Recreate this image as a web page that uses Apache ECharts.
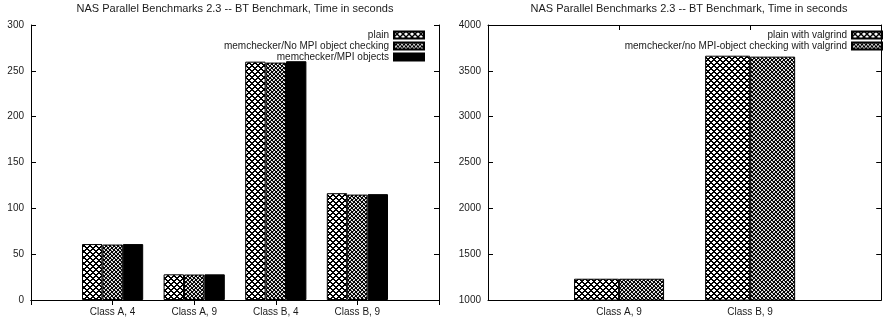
<!DOCTYPE html>
<html><head><meta charset="utf-8">
<script src="https://cdn.jsdelivr.net/npm/echarts@6/dist/echarts.min.js"></script>
<style>html,body{margin:0;padding:0;background:#fff}#c{width:887px;height:320px}</style>
</head><body><div id="c"></div>
<script>
// ---- data ----
const chartTitle = 'NAS Parallel Benchmarks 2.3 -- BT Benchmark, Time in seconds';
const leftCategories = ['Class A, 4', 'Class A, 9', 'Class B, 4', 'Class B, 9'];
const leftSeriesNames = ['plain', 'memchecker/No MPI object checking', 'memchecker/MPI objects'];
const leftPlain = [61, 28, 260, 116.5];
const leftNoMpiCheck = [60.5, 27.8, 259, 115];
const leftMpiObjects = [61, 28, 260.5, 115.5];
const leftYTicks = [0, 50, 100, 150, 200, 250, 300];

const rightCategories = ['Class A, 9', 'Class B, 9'];
const rightSeriesNames = ['plain with valgrind', 'memchecker/no MPI-object checking with valgrind'];
const rightPlainValgrind = [1232, 3665];
const rightNoMpiValgrind = [1232, 3655];
const rightYTicks = [1000, 1500, 2000, 2500, 3000, 3500, 4000];

// ---- styles ----
// crisp pixel patterns (gnuplot-like fills)
function bitmapPattern(rows) {
  const c = document.createElement('canvas');
  const g = c.getContext('2d');
  c.width = rows[0].length; c.height = rows.length;
  const cols = { 'X': '#000', 'g': '#888', '.': '#fff' };
  rows.forEach((row, y) => {
    for (let x = 0; x < row.length; x++) { g.fillStyle = cols[row[x]]; g.fillRect(x, y, 1, 1); }
  });
  return { image: c, repeat: 'repeat' };
}
const crossFill = bitmapPattern([
  'XX..XX',
  '.XXXX.',
  '..XX..',
  '.XXXX.',
  'XX..XX',
  'X....X'
]);
const denseFill = bitmapPattern([
  'X.gX',
  'gXX.',
  '.XXg',
  'Xg.X'
]);
const FONT = 'Liberation Sans, Arial, sans-serif';
const TXT = '#1a1a1a';

function pad(arr, blank) { return [blank[0]].concat(arr, [blank[1]]); }
const leftCats = pad(leftCategories, [' ', '  ']);
const rightCats = pad(rightCategories, [' ', '  ']);
const padData = arr => [null].concat(arr, [null]);

function xAx(grid, cats, pos) {
  return {
    type: 'category', gridIndex: grid, data: cats, position: pos, boundaryGap: false,
    axisLine: { show: true, lineStyle: { color: '#000', width: 1 } },
    axisTick: { show: true, inside: true, length: 5, interval: 0, lineStyle: { color: '#000' } },
    axisLabel: { show: pos === 'bottom', interval: 0, color: TXT, fontFamily: FONT, fontSize: 10, margin: 7 },
    splitLine: { show: false }
  };
}
function yAx(grid, ticks, pos) {
  return {
    type: 'value', gridIndex: grid, position: pos,
    min: ticks[0], max: ticks[ticks.length - 1], interval: ticks[1] - ticks[0],
    axisLine: { show: true, lineStyle: { color: '#000', width: 1 } },
    axisTick: { show: true, inside: true, length: 5, lineStyle: { color: '#000' } },
    axisLabel: { show: pos === 'left', color: TXT, fontFamily: FONT, fontSize: 10, margin: 7,
      formatter: v => String(v) },
    splitLine: { show: false }
  };
}
function barSeries(name, data, fill, xi, yi, w) {
  return {
    type: 'bar', name, data: padData(data), xAxisIndex: xi, yAxisIndex: yi,
    barWidth: w, barGap: '0%', clip: true,
    itemStyle: { color: fill, borderColor: '#000', borderWidth: 1 }
  };
}
function legendItem(name, right, top) {
  return {
    data: [name], right, top, orient: 'horizontal', align: 'right',
    icon: 'rect', itemWidth: 30, itemHeight: 7, itemGap: 4, selectedMode: false,
    padding: 0,
    textStyle: { color: TXT, fontFamily: FONT, fontSize: 10 }
  };
}

const chart = echarts.init(document.getElementById('c'), null, { renderer: 'canvas' });
chart.setOption({
  animation: false,
  backgroundColor: '#fff',
  title: [
    { text: chartTitle, left: 235, top: 3, textAlign: 'center', padding: 0,
      textStyle: { fontFamily: FONT, fontSize: 11, fontWeight: 'normal', color: TXT } },
    { text: chartTitle, left: 689, top: 3, textAlign: 'center', padding: 0,
      textStyle: { fontFamily: FONT, fontSize: 11, fontWeight: 'normal', color: TXT } }
  ],
  grid: [
    { left: 31, right: 448, top: 25, bottom: 20 },
    { left: 488, right: -5, top: 25, bottom: 20 }
  ],
  xAxis: [
    xAx(0, leftCats, 'bottom'), xAx(0, leftCats, 'top'),
    xAx(1, rightCats, 'bottom'), xAx(1, rightCats, 'top')
  ],
  yAxis: [
    yAx(0, leftYTicks, 'left'), yAx(0, leftYTicks, 'right'),
    yAx(1, rightYTicks, 'left'), yAx(1, rightYTicks, 'right')
  ],
  legend: [
    legendItem(leftSeriesNames[0], 462, 30),
    legendItem(leftSeriesNames[1], 462, 41),
    legendItem(leftSeriesNames[2], 462, 52),
    legendItem(rightSeriesNames[0], 4, 30),
    legendItem(rightSeriesNames[1], 4, 41)
  ],
  series: [
    barSeries(leftSeriesNames[0], leftPlain, crossFill, 0, 0, 20.4),
    barSeries(leftSeriesNames[1], leftNoMpiCheck, denseFill, 0, 0, 20.4),
    barSeries(leftSeriesNames[2], leftMpiObjects, '#000', 0, 0, 20.4),
    barSeries(rightSeriesNames[0], rightPlainValgrind, crossFill, 2, 2, 45),
    barSeries(rightSeriesNames[1], rightNoMpiValgrind, denseFill, 2, 2, 45)
  ]
});
</script></body></html>
